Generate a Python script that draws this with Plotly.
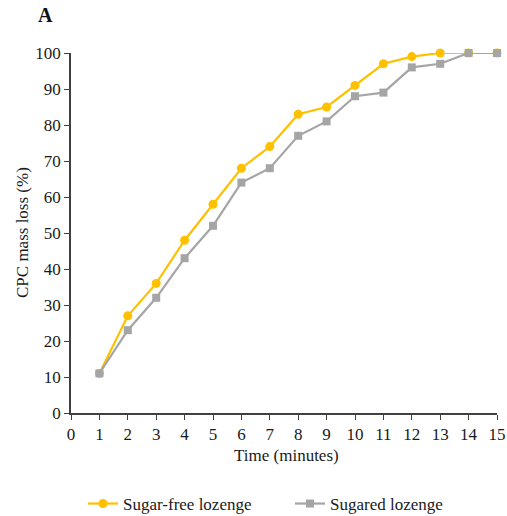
import plotly.graph_objects as go

time_min = [1, 2, 3, 4, 5, 6, 7, 8, 9, 10, 11, 12, 13, 14, 15]
sugar_free = [11, 27, 36, 48, 58, 68, 74, 83, 85, 91, 97, 99, 100, 100, 100]
sugared = [11, 23, 32, 43, 52, 64, 68, 77, 81, 88, 89, 96, 97, 100, 100]
x_ticks = list(range(0, 16))
y_ticks = list(range(0, 101, 10))

FONT = "Liberation Serif"
TXT = "#1a1a1a"

fig = go.Figure()
fig.add_trace(go.Scatter(
    x=time_min, y=sugar_free, name="Sugar-free lozenge", mode="lines+markers",
    line=dict(color="#FFC000", width=2.2),
    marker=dict(symbol="circle", size=9, color="#FFC000"),
    cliponaxis=False,
))
fig.add_trace(go.Scatter(
    x=time_min, y=sugared, name="Sugared lozenge", mode="lines+markers",
    line=dict(color="#A5A5A5", width=2.2),
    marker=dict(symbol="square", size=8, color="#A5A5A5"),
    cliponaxis=False,
))

axis_common = dict(
    showgrid=False, zeroline=False, showline=True, linecolor="#404040", linewidth=1.5,
    ticks="outside", ticklen=5, tickwidth=1.3, tickcolor="#404040",
    tickfont=dict(family=FONT, size=17, color=TXT),
    fixedrange=True,
)
fig.update_xaxes(range=[0, 15], tickvals=x_ticks, **axis_common)
fig.update_yaxes(range=[0, 100], tickvals=y_ticks, **axis_common)

W, H = 507, 516
L, R, T, B = 71, 10, 53, 103
plot_w = W - L - R
plot_h = H - T - B

fig.update_layout(
    width=W, height=H,
    margin=dict(l=L, r=R, t=T, b=B, autoexpand=False),
    plot_bgcolor="white", paper_bgcolor="white",
    font=dict(family=FONT, color=TXT),
    legend=dict(
        orientation="h", x=(290 - L) / plot_w, xanchor="center",
        y=(413 - 504) / plot_h, yanchor="middle",
        font=dict(family=FONT, size=17, color=TXT),
        entrywidth=162, entrywidthmode="pixels", tracegroupgap=0,
    ),
    annotations=[
        dict(text="<b>A</b>", x=(45 - L) / plot_w, y=(413 - 15) / plot_h,
             xref="paper", yref="paper", showarrow=False, xanchor="center", yanchor="middle",
             font=dict(family=FONT, size=20, color="#111")),
        dict(text="Time (minutes)", x=(286 - L) / plot_w, y=(413 - 455) / plot_h,
             xref="paper", yref="paper", showarrow=False,
             xanchor="center", yanchor="middle", font=dict(family=FONT, size=17, color=TXT)),
        dict(text="CPC mass loss (%)", x=(22 - L) / plot_w, y=(413 - 233) / plot_h,
             xref="paper", yref="paper", showarrow=False,
             textangle=-90, xanchor="center", yanchor="middle", font=dict(family=FONT, size=17, color=TXT)),
    ],
)

fig.write_html("out.html")
